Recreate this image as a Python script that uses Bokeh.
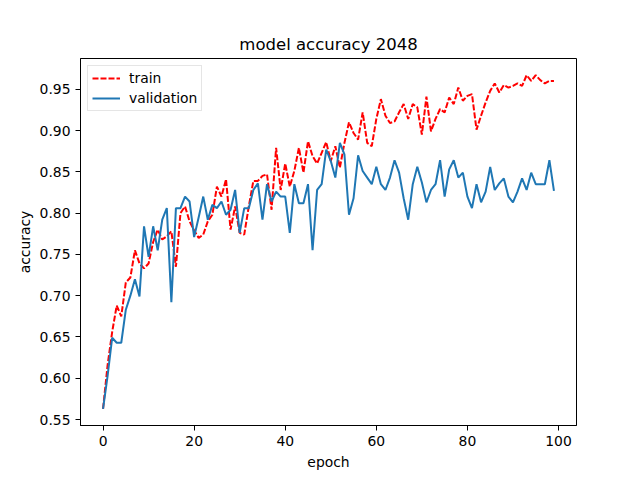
from bokeh.plotting import figure
from bokeh.models import Range1d, FixedTicker, Legend, LegendItem
from bokeh.embed import file_html
from bokeh.resources import INLINE

epochs = list(range(100))

train = [0.563, 0.616, 0.656, 0.688, 0.675, 0.716, 0.722, 0.755, 0.739, 0.733,
         0.739, 0.765, 0.780, 0.768, 0.772, 0.778, 0.735, 0.800, 0.808, 0.790,
         0.779, 0.770, 0.774, 0.790, 0.798, 0.832, 0.820, 0.841, 0.780, 0.808,
         0.776, 0.774, 0.808, 0.839, 0.839, 0.845, 0.847, 0.804, 0.879,
         0.828, 0.860, 0.832, 0.851, 0.879, 0.849, 0.887, 0.869, 0.860, 0.873,
         0.886, 0.863, 0.881, 0.855, 0.885, 0.910, 0.897, 0.889, 0.922, 0.885,
         0.881, 0.914, 0.938, 0.918, 0.909, 0.911, 0.922, 0.932, 0.914, 0.932,
         0.928, 0.895, 0.941, 0.899, 0.914, 0.926, 0.922, 0.940, 0.932, 0.952,
         0.936, 0.942, 0.944, 0.901, 0.918, 0.934, 0.948, 0.957, 0.946, 0.955,
         0.952, 0.954, 0.957, 0.954, 0.967, 0.960, 0.967, 0.961, 0.957, 0.960, 0.960]

validation = [0.563, 0.603, 0.649, 0.643, 0.643, 0.683, 0.700, 0.720, 0.699, 0.784,
              0.747, 0.784, 0.755, 0.792, 0.806, 0.692, 0.806, 0.806, 0.820, 0.814,
              0.771, 0.795, 0.820, 0.792, 0.810, 0.806, 0.814, 0.798, 0.804, 0.828,
              0.776, 0.806, 0.806, 0.828, 0.836, 0.792, 0.835, 0.814, 0.826,
              0.820, 0.820, 0.776, 0.835, 0.812, 0.812, 0.835, 0.755, 0.828, 0.835,
              0.877, 0.863, 0.843, 0.885, 0.871, 0.798, 0.818, 0.870, 0.851, 0.843,
              0.835, 0.856, 0.835, 0.828, 0.843, 0.864, 0.849, 0.818, 0.792, 0.835,
              0.856, 0.837, 0.813, 0.828, 0.835, 0.864, 0.820, 0.853, 0.864, 0.843,
              0.849, 0.820, 0.806, 0.835, 0.813, 0.826, 0.856, 0.828, 0.836, 0.842,
              0.820, 0.813, 0.826, 0.842, 0.828, 0.849, 0.835, 0.835, 0.835, 0.864, 0.827]

x_ticks = [0, 20, 40, 60, 80, 100]
y_ticks = [0.55, 0.60, 0.65, 0.70, 0.75, 0.80, 0.85, 0.90, 0.95]
y_tick_labels = {t: f"{t:.2f}" for t in y_ticks}

FONT = "DejaVu Sans"

xmin, xmax = min(epochs), max(epochs)
xpad = 0.05 * (xmax - xmin)
ymin = min(min(train), min(validation))
ymax = max(max(train), max(validation))
ypad = 0.05 * (ymax - ymin)

p = figure(width=632, height=472, output_backend="svg", toolbar_location=None,
           x_range=Range1d(xmin - xpad, xmax + xpad),
           y_range=Range1d(ymin - ypad, ymax + ypad),
           min_border_left=80, min_border_right=56,
           min_border_top=58, min_border_bottom=45)

p.background_fill_color = "white"
p.border_fill_color = "white"
p.outline_line_color = "black"
p.outline_line_width = 1
p.outline_line_alpha = 1
p.xgrid.visible = False
p.ygrid.visible = False

p.title.text = "model accuracy 2048"
p.title.align = "center"
p.title.text_font = FONT
p.title.text_font_size = "16.5px"
p.title.text_font_style = "normal"
p.title.text_color = "black"

for ax in (p.xaxis[0], p.yaxis[0]):
    ax.major_tick_out = 5
    ax.major_tick_in = 0
    ax.minor_tick_out = 0
    ax.minor_tick_in = 0
    ax.major_tick_line_color = "black"
    ax.axis_line_color = "black"
    ax.major_label_text_font = FONT
    ax.major_label_text_font_size = "13.9px"
    ax.major_label_text_color = "black"
    ax.axis_label_text_font = FONT
    ax.axis_label_text_font_size = "13.9px"
    ax.axis_label_text_font_style = "normal"
    ax.axis_label_text_color = "black"

p.xaxis.ticker = FixedTicker(ticks=x_ticks)
p.yaxis.ticker = FixedTicker(ticks=y_ticks)
p.yaxis.major_label_overrides = y_tick_labels
p.xaxis.axis_label = "epoch"
p.yaxis.axis_label = "accuracy"
p.xaxis.axis_label_standoff = 5
p.yaxis.axis_label_standoff = 4

r_train = p.line(epochs, train, line_color="#ff0000", line_width=2, line_dash="6 2")
r_val = p.line(epochs, validation, line_color="#1f77b4", line_width=2)

legend = Legend(items=[LegendItem(label="train", renderers=[r_train]),
                       LegendItem(label="validation", renderers=[r_val])],
                location="top_left")
legend.label_text_font = FONT
legend.label_text_font_size = "13.9px"
legend.label_text_color = "black"
legend.glyph_width = 28
legend.glyph_height = 14
legend.label_height = 14
legend.label_standoff = 9
legend.spacing = 4
legend.padding = 4
legend.margin = 7
legend.border_line_color = "#cccccc"
legend.border_line_width = 1
legend.background_fill_alpha = 0.8
p.add_layout(legend)

open("out.html", "w").write(file_html(p, INLINE))
